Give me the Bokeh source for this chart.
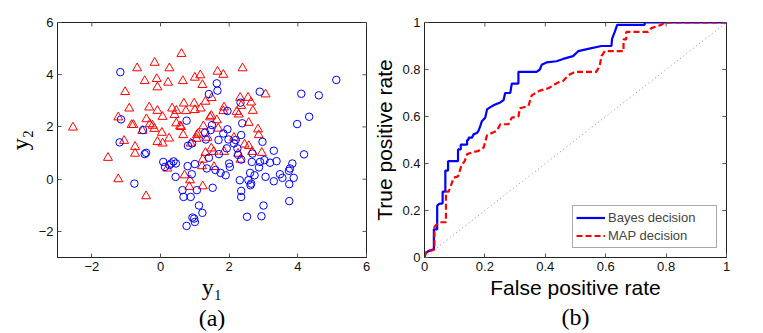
import math
from bokeh.plotting import figure
from bokeh.layouts import row
from bokeh.models import FixedTicker, Title, Legend, LegendItem, Range1d
from bokeh.embed import file_html
from bokeh.resources import INLINE

# ---------------- data: scatter (a) ----------------
tri_x = [-2.55, -1.53, -1.23, -1.23, -1.06, -1.03, -0.91, -0.84, -0.79, -0.74, -0.74, -0.68,
         -0.46, -0.42, -0.53, -0.41, -0.33, -0.31, -0.23, -0.18, -0.17, -0.11, -0.09, -0.09,
         -0.09, 0.04, 0.06, 0.06, 0.25, 0.26, 0.22, 0.20, 0.34, 0.41, 0.46, 0.46, 0.57, 0.61,
         0.65, 0.68, 0.66, 0.74, 0.70, 0.86, 0.84, 0.88, 0.98, 1.00, 1.00, 1.06, 1.10, 1.16,
         1.17, 1.22, 1.25, 1.23, 1.31, 1.31, 1.37, 1.44, 1.48, 1.49, 1.48, 1.56, 1.64, 1.66,
         1.68, 1.83, 1.83, 1.85, 1.85, 2.14, 2.22, 2.28, 2.26, 2.32, 2.35, 2.33, 2.39, 2.45,
         2.55, 2.57, 2.57, 2.64, 2.69, 2.67, 2.84, 2.86, 2.95, 3.06, 1.21, 1.05, 0.60, 1.55,
         1.23]
tri_y = [1.98, 0.82, 0.00, 2.37, 1.47, 3.34, 2.71, 2.08, 2.08, 1.24, 0.98, 4.25,
         3.76, -0.65, 1.85, 2.30, 2.75, 2.11, 2.05, 1.93, 4.46, 3.84, 3.52, 2.62,
         1.43, 1.78, 2.39, 1.37, 1.56, 4.25, 3.70, 0.41, 2.71, 2.46, 2.62, 2.14, 2.03, 4.80,
         3.76, 2.90, 1.69, 2.61, 0.15, -0.04, -0.29, 1.37, 2.90, 3.89, 2.65, 1.69, 1.75, 3.98,
         2.71, 3.61, 2.03, -0.27, 2.97, 1.01, 1.59, 2.37, 2.43, 3.11, 1.18, 0.47, 2.26, 4.12,
         1.94, 4.00, 2.61, 2.75, 1.05, 1.59, 2.58, 2.48, 0.98, 3.12, 2.81, 0.75, 4.25, 1.33,
         3.12, 2.16, 1.27, 2.94, 2.62, 1.05, 1.91, 1.69, 1.01, 3.25, 0.50, 1.55, 2.00, 1.05,
         0.75]

circ_x = [-1.17, -1.15, -1.19, -0.76, -0.51, -0.46, -0.42, 0.08, 0.13, 0.26, 0.31, 0.38,
          0.45, 0.44, 0.64, 0.67, 0.76, 0.76, 0.79, 0.80, 0.91, 0.92, 0.93, 0.98, 1.00,
          1.00, 0.88, 1.06, 1.12, 1.22, 1.32, 1.35, 1.30, 1.41, 1.46, 1.50, 1.41, 1.52,
          1.60, 1.64, 1.66, 1.69, 1.70, 1.75, 1.83, 1.90, 1.93, 1.95, 1.95, 1.98, 2.00,
          2.02, 2.14, 2.19, 2.24, 2.26, 2.31, 2.33, 2.35, 2.35, 2.35, 2.35, 2.38, 2.52,
          2.56, 2.61, 2.62, 2.66, 2.68, 2.64, 2.74, 2.89, 2.90, 2.87, 2.97, 2.94, 3.00,
          3.03, 3.06, 3.19, 3.30, 3.30, 3.38, 3.48, 3.55, 3.74, 3.75, 3.75, 3.77, 3.84,
          3.88, 3.98, 4.10, 4.18, 4.33, 4.61, 5.12]
circ_y = [4.10, 2.29, 1.41, -0.17, 1.88, 0.96, 1.01, 0.66, 0.47, 0.54, 0.60, 0.68,
          0.60, 0.09, -0.42, -0.68, 2.24, -1.79, 0.50, 1.28, 0.19, 1.37, -1.47, -1.51, -1.64,
          0.58, -0.68, -0.42, -1.01, -1.29, 1.52, 0.41, 1.78, 0.82, 1.88, 2.07, 3.26, -0.33,
          0.35, 3.67, 3.39, 1.50, 0.96, 0.24, 1.75, 0.15, 1.18, 1.91, 2.61, 1.52, 0.60,
          0.47, 1.37, 1.50, 1.18, 0.93, -0.04, 2.93, 1.69, 0.75, -0.45, -0.68, 2.14, -1.44,
          -0.04, 0.24, -0.23, 0.66, 0.98, -0.17, 0.15, 3.35, 0.66, 0.45, 1.43, -1.42, -1.01,
          0.73, 0.09, 0.63, -0.08, 1.09, 0.69, 0.19, 0.05, 0.32, -0.19, -0.84, 0.41, 0.60,
          0.05, 2.11, 3.27, 0.95, 2.39, 3.21, 3.80]

scatter_range = [-3, 6]
scatter_ticks = [-2, 0, 2, 4, 6]
scatter_tick_labels = ["\u22122", "0", "2", "4", "6"]

# ---------------- data: ROC (b) ----------------
bayes_fpr = [0.0, 0.0, 0.005, 0.01, 0.03, 0.031, 0.031, 0.042, 0.042, 0.048, 0.06, 0.06,
             0.069, 0.069, 0.078, 0.078, 0.111, 0.111, 0.12, 0.12, 0.141, 0.141, 0.146, 0.146,
             0.157, 0.163, 0.174, 0.179, 0.185, 0.190, 0.201, 0.207, 0.218, 0.232, 0.251,
             0.262, 0.267, 0.284, 0.289, 0.311, 0.311, 0.371, 0.382, 0.388, 0.404, 0.437,
             0.459, 0.492, 0.509, 0.542, 0.586, 0.619, 0.621, 0.630, 0.638, 0.729, 0.729, 1.0]
bayes_tpr = [0.0, 0.02, 0.02, 0.025, 0.035, 0.035, 0.12, 0.12, 0.22, 0.228, 0.23, 0.28,
             0.28, 0.37, 0.37, 0.41, 0.41, 0.46, 0.46, 0.48, 0.48, 0.50, 0.50, 0.51,
             0.51, 0.525, 0.53, 0.54, 0.56, 0.58, 0.595, 0.63, 0.64, 0.65, 0.66,
             0.67, 0.70, 0.70, 0.74, 0.74, 0.79, 0.79, 0.80, 0.82, 0.83, 0.835,
             0.845, 0.857, 0.878, 0.888, 0.90, 0.90, 0.93, 0.96, 0.99, 0.99, 1.0, 1.0]

map_fpr = [0.0, 0.005, 0.01, 0.025, 0.033, 0.033, 0.04, 0.05, 0.071, 0.071, 0.08, 0.097,
           0.111, 0.122, 0.133, 0.141, 0.157, 0.179, 0.196, 0.207, 0.223, 0.240, 0.251,
           0.278, 0.289, 0.311, 0.316, 0.344, 0.355, 0.382, 0.410, 0.443, 0.459, 0.476,
           0.498, 0.569, 0.580, 0.586, 0.597, 0.659, 0.659, 0.668, 0.668, 0.740, 0.751,
           0.784, 0.795, 1.0]
map_tpr = [0.0, 0.02, 0.03, 0.03, 0.035, 0.13, 0.14, 0.15, 0.15, 0.28, 0.28, 0.34,
           0.345, 0.39, 0.41, 0.44, 0.447, 0.454, 0.468, 0.52, 0.53, 0.54, 0.567,
           0.567, 0.595, 0.60, 0.635, 0.645, 0.69, 0.71, 0.72, 0.745, 0.751, 0.775,
           0.79, 0.79, 0.815, 0.857, 0.878, 0.878, 0.928, 0.928, 0.96, 0.96, 0.976,
           0.99, 1.0, 1.0]

chance_x = [0, 1]
chance_y = [0, 1]

roc_range = [0, 1]
roc_ticks = [0, 0.2, 0.4, 0.6, 0.8, 1]
roc_tick_labels = ["0", "0.2", "0.4", "0.6", "0.8", "1"]

SANS = "Liberation Sans"
SERIF = "Liberation Serif"
TICK_SIZE = "13px"
TICK_COLOR = "#555555"


def style_axes(p, rng, ticks, labels):
    overrides = {t: l for t, l in zip(ticks, labels)}
    for ax in (p.below[0], p.left[0]):
        ax.ticker = FixedTicker(ticks=ticks)
        ax.major_label_overrides = overrides
        ax.major_tick_in = 4
        ax.major_tick_out = 0
        ax.minor_tick_line_color = None
        ax.major_tick_line_color = TICK_COLOR
        ax.axis_line_color = "#222222"
        ax.major_label_text_font = SANS
        ax.major_label_text_font_size = TICK_SIZE
        ax.major_label_text_color = "#111111"
        ax.major_label_standoff = 4
        ax.axis_label_text_font_style = "normal"
        ax.axis_label_text_color = "#000000"
    # mirrored inward ticks on the top and right edges (half of each dash is clipped by the frame)
    p.scatter([rng[1]] * len(ticks), ticks, marker="dash", size=8,
              line_color=TICK_COLOR, line_width=1)
    p.scatter(ticks, [rng[1]] * len(ticks), marker="dash", size=8, angle=math.pi / 2,
              line_color=TICK_COLOR, line_width=1)
    p.xgrid.visible = False
    p.ygrid.visible = False
    p.outline_line_color = "#222222"
    p.outline_line_width = 1


def panel_tag(p, text):
    p.add_layout(Title(text=text, align="center", text_font=SERIF, text_font_size="24px",
                       text_font_style="normal", text_color="#000000", standoff=0), "below")


# ---------------- figure (a) ----------------
p1 = figure(width=370, height=333, x_range=Range1d(*scatter_range), y_range=Range1d(*scatter_range),
            output_backend="svg", toolbar_location=None, title=None,
            min_border_left=57, min_border_right=4, min_border_top=22, min_border_bottom=76)
p1.scatter(tri_x, tri_y, marker="triangle", size=9, fill_color=None,
           line_color="#ff0000", line_width=1)
p1.scatter(circ_x, circ_y, marker="circle", size=7.5, fill_color=None,
           line_color="#0000ff", line_width=1)
style_axes(p1, scatter_range, scatter_ticks, scatter_tick_labels)
p1.below[0].axis_label = "y\u2081"
p1.left[0].axis_label = "y\u2082"
p1.below[0].axis_label_standoff = 0
p1.left[0].axis_label_standoff = 3
for ax in (p1.below[0], p1.left[0]):
    ax.axis_label_text_font = SERIF
    ax.axis_label_text_font_size = "24px"
panel_tag(p1, "(a)")

# ---------------- figure (b) ----------------
p2 = figure(width=392, height=333, x_range=Range1d(*roc_range), y_range=Range1d(*roc_range),
            output_backend="svg", toolbar_location=None, title=None,
            min_border_left=52, min_border_right=36, min_border_top=21, min_border_bottom=76)
p2.line(chance_x, chance_y, line_color="#8080ff", line_width=1, line_dash="1 3")
r_bayes = p2.line(bayes_fpr, bayes_tpr, line_color="#0000ff", line_width=2.2)
r_map = p2.line(map_fpr, map_tpr, line_color="#ff0000", line_width=2.2, line_dash="6 3")
style_axes(p2, roc_range, roc_ticks, roc_tick_labels)
p2.below[0].axis_label = "False positive rate"
p2.left[0].axis_label = "True positive rate"
p2.below[0].axis_label_standoff = 2
p2.left[0].axis_label_standoff = 3
for ax in (p2.below[0], p2.left[0]):
    ax.axis_label_text_font = SANS
    ax.axis_label_text_font_size = "21px"
panel_tag(p2, "(b)")

legend = Legend(items=[LegendItem(label="Bayes decision", renderers=[r_bayes]),
                       LegendItem(label="MAP decision", renderers=[r_map])],
                location="bottom_right", margin=9, padding=3, spacing=1,
                glyph_width=29, glyph_height=17, label_height=17, label_width=105,
                label_standoff=3, label_text_font=SANS, label_text_font_size="13px",
                border_line_color="#555555", border_line_width=1,
                background_fill_color="white", background_fill_alpha=1.0)
p2.add_layout(legend)

layout = row(p1, p2, spacing=0)
open("out.html", "w").write(file_html(layout, INLINE))
